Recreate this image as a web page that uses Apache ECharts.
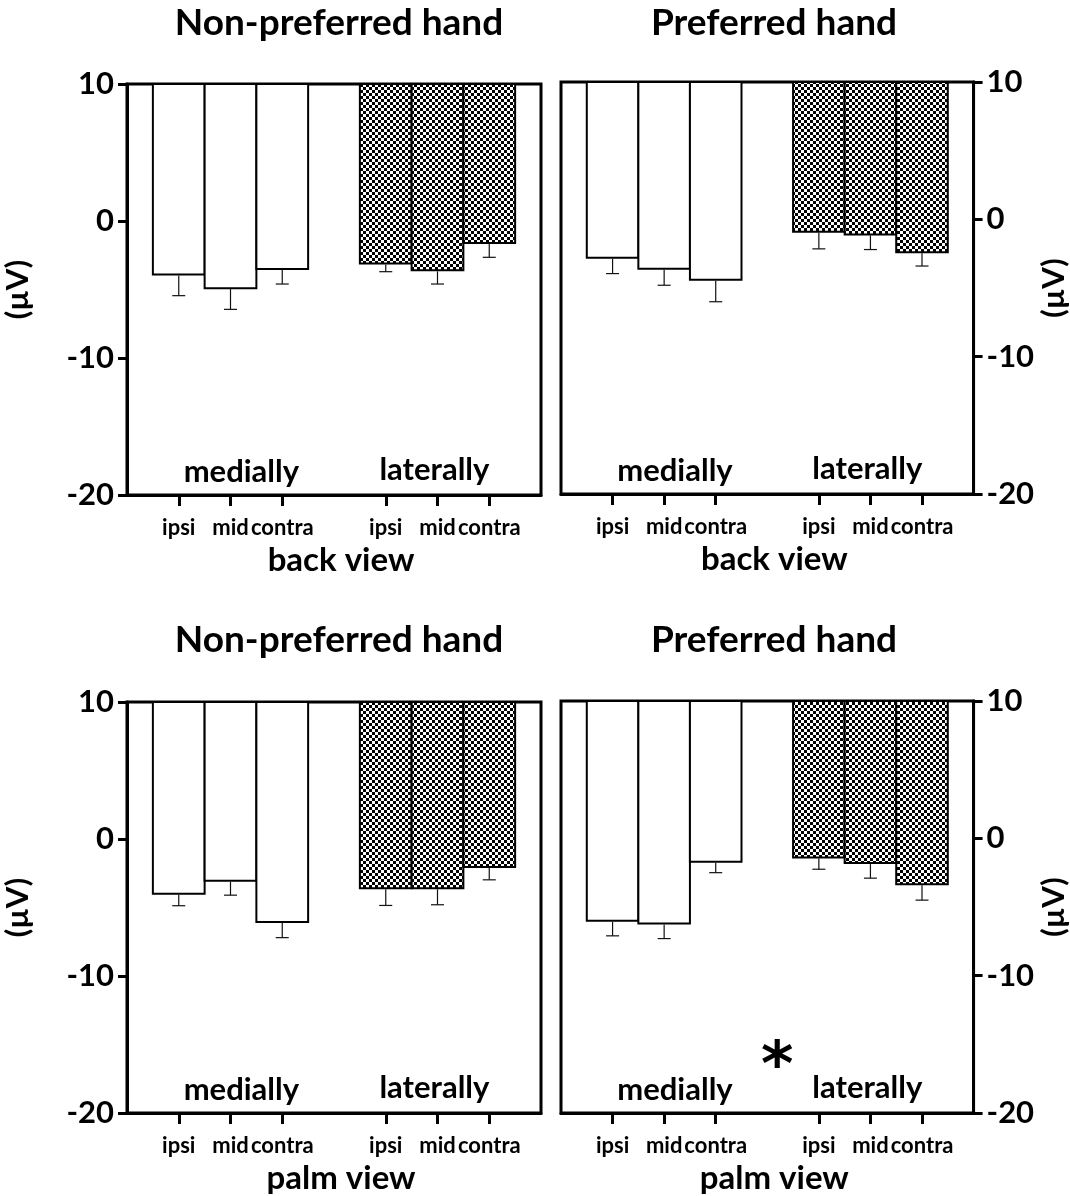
<!DOCTYPE html>
<html>
<head>
<meta charset="utf-8">
<script src="https://cdn.jsdelivr.net/npm/echarts@6/dist/echarts.min.js"></script>
<style>
html,body{margin:0;padding:0;background:#fff;}
#chart{width:1070px;height:1196px;}
</style>
</head>
<body>
<div id="chart"></div>
<script>
// ---- data ----
const tickLabels = ['ipsi', 'mid', 'contra'];
const groupNames = ['medially', 'laterally'];
const handTitles = ['Non-preferred hand', 'Preferred hand'];
const viewNames = ['back view', 'palm view'];
const yTicks = [-20, -10, 0, 10];
const yUnit = '(\u00b5V)';

// values: medially ipsi, mid, contra, laterally ipsi, mid, contra
const backNonPref    = [-3.9, -4.9, -3.5, -3.1, -3.6, -1.6];
const backNonPrefErr = [1.55, 1.55, 1.1, 0.6, 1.0, 1.05];
const backPref       = [-2.8, -3.6, -4.4, -0.9, -1.1, -2.4];
const backPrefErr    = [1.15, 1.2, 1.6, 1.25, 1.1, 1.0];
const palmNonPref    = [-4.0, -3.05, -6.05, -3.6, -3.6, -2.05];
const palmNonPrefErr = [0.87, 1.05, 1.15, 1.25, 1.2, 0.93];
const palmPref       = [-6.0, -6.2, -1.7, -1.4, -1.8, -3.35];
const palmPrefErr    = [1.1, 1.1, 0.8, 0.85, 1.1, 1.15];
const significance   = '*';

// ---- build ----
const FONT = 'Lato';
const Y_MIN = yTicks[0], Y_MAX = yTicks[yTicks.length - 1];
// slot layout on the x axis: 0 | 1 2 3 | 4 | 5 6 7 | 8
const barSlot = [1, 2, 3, 5, 6, 7];
const slotLabel = {};
barSlot.forEach((s, k) => { slotLabel[s] = tickLabels[k % 3]; });

const checker = document.createElement('canvas');
checker.width = 6; checker.height = 6;
(function () {
  const c = checker.getContext('2d');
  c.fillStyle = '#fff'; c.fillRect(0, 0, 6, 6);
  c.fillStyle = '#000'; c.fillRect(0, 0, 3, 3); c.fillRect(3, 3, 3, 3);
})();
const checkerFill = { image: checker, repeat: 'repeat' };

const panels = [
  { hand: 0, view: 0, vals: backNonPref, errs: backNonPrefErr, side: 'left',  grid: { left: 127, top: 84,  width: 414, height: 411 }, titleX: 334, titleTop: 0 },
  { hand: 1, view: 0, vals: backPref,    errs: backPrefErr,    side: 'right', grid: { left: 561, top: 82,  width: 414, height: 412 }, titleX: 769, titleTop: 0 },
  { hand: 0, view: 1, vals: palmNonPref, errs: palmNonPrefErr, side: 'left',  grid: { left: 127, top: 702, width: 414, height: 411 }, titleX: 334, titleTop: 617 },
  { hand: 1, view: 1, vals: palmPref,    errs: palmPrefErr,    side: 'right', grid: { left: 561, top: 701, width: 414, height: 412 }, titleX: 769, titleTop: 617, star: true }
];

const txt = (size) => ({ fontFamily: FONT, fontWeight: 'bold', fontSize: size, color: '#000' });

function barRender(params, api) {
  const x = api.value(0), v = api.value(1), e = api.value(2), lat = api.value(3);
  const top = api.coord([x, Y_MAX]);
  const bot = api.coord([x, v]);
  const cap = api.coord([x, v - e]);
  const w = api.size([1, 0])[0];
  return {
    type: 'group',
    children: [
      { type: 'rect', shape: { x: top[0] - w / 2, y: top[1], width: w, height: bot[1] - top[1] },
        style: { fill: lat ? checkerFill : '#fff', stroke: '#000', lineWidth: 2 } },
      { type: 'line', shape: { x1: bot[0], y1: bot[1] + 1, x2: bot[0], y2: cap[1] },
        style: { stroke: '#111', lineWidth: 1.2 } },
      { type: 'line', shape: { x1: bot[0] - 6.5, y1: cap[1], x2: bot[0] + 6.5, y2: cap[1] },
        style: { stroke: '#111', lineWidth: 1.2 } }
    ]
  };
}

function annRender(params, api) {
  const p = api.coord([api.value(0), api.value(1)]);
  const label = api.value(2);
  const isStar = label === significance;
  return {
    type: 'text', x: p[0], y: p[1],
    style: {
      text: label, fill: '#000',
      font: isStar ? 'bold 62px "DejaVu Sans"' : 'bold 31px ' + FONT,
      align: 'center', verticalAlign: 'middle', textAlign: 'center', textVerticalAlign: 'middle'
    }
  };
}

const option = {
  animation: false,
  backgroundColor: '#fff',
  textStyle: { fontFamily: FONT },
  title: panels.map(p => ({
    text: handTitles[p.hand], left: p.titleX, top: p.titleTop, textAlign: 'center',
    textStyle: txt(37)
  })),
  grid: panels.map(p => Object.assign({ show: true, borderColor: '#000', borderWidth: 3, containLabel: false }, p.grid)),
  xAxis: panels.map((p, i) => ({
    type: 'value', gridIndex: i, min: 0, max: 8, interval: 1,
    axisLine: { onZero: false, lineStyle: { color: '#000', width: 3 } },
    axisTick: { show: true, customValues: barSlot, length: 11, lineStyle: { color: '#000', width: 3 } },
    axisLabel: Object.assign({ customValues: barSlot, margin: 22, formatter: v => slotLabel[v] || '' }, txt(22)),
    splitLine: { show: false },
    name: viewNames[p.view], nameLocation: 'middle', nameGap: 49,
    nameTextStyle: Object.assign({ padding: [0, 0, 0, 14] }, txt(33))
  })),
  yAxis: panels.map((p, i) => ({
    type: 'value', gridIndex: i, min: Y_MIN, max: Y_MAX, interval: 10, position: p.side,
    axisLine: { show: true, onZero: false, lineStyle: { color: '#000', width: 3 } },
    axisTick: { show: true, length: 9, lineStyle: { color: '#000', width: 3 } },
    axisLabel: Object.assign({ margin: 13 }, txt(31)),
    splitLine: { show: false },
    name: yUnit, nameLocation: 'middle', nameRotate: 90, nameGap: p.side === 'left' ? 94 : 63,
    nameTextStyle: txt(31)
  })),
  series: []
};

panels.forEach((p, i) => {
  option.series.push({
    type: 'custom', xAxisIndex: i, yAxisIndex: i,
    renderItem: barRender, encode: { x: 0, y: 1 },
    data: p.vals.map((v, k) => [barSlot[k], v, p.errs[k], k >= 3 ? 1 : 0]),
    z: 2
  });
  const ann = [
    [2.21, -18.3, groupNames[0]],
    [5.94, -18.2, groupNames[1]]
  ];
  if (p.star) ann.push([4.19, -16.8, significance]);
  option.series.push({
    type: 'custom', xAxisIndex: i, yAxisIndex: i,
    renderItem: annRender, encode: { x: 0, y: 1 },
    data: ann, z: 3
  });
});

const chart = echarts.init(document.getElementById('chart'), null, { renderer: 'canvas' });
chart.setOption(option);
</script>
</body>
</html>
